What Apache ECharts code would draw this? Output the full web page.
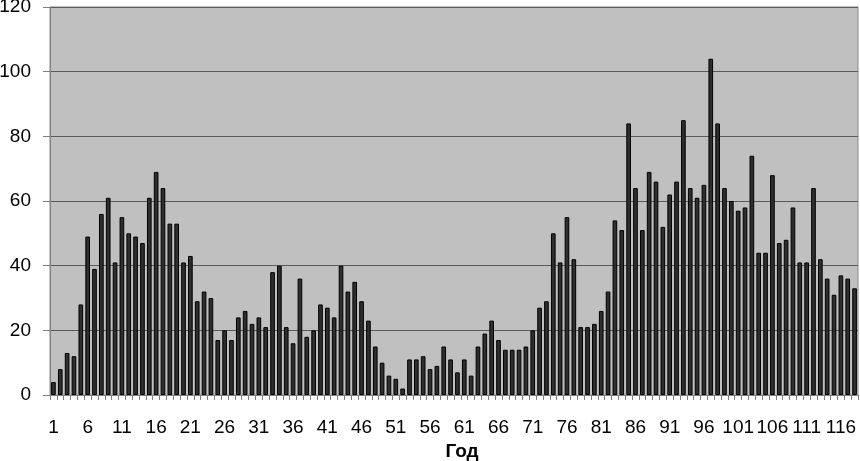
<!DOCTYPE html>
<html>
<head>
<meta charset="utf-8">
<script src="https://cdn.jsdelivr.net/npm/echarts@6/dist/echarts.min.js"></script>
<style>html,body{margin:0;padding:0;background:#fff;}#c{width:860px;height:461px;}</style>
</head>
<body>
<div id="c"></div>
<script>
var categories = [];
for (var i = 1; i <= 118; i++) categories.push(String(i));
var values = [
  4, 8, 13, 12, 28, 49, 39, 56, 61, 41,
  55, 50, 49, 47, 61, 69, 64, 53, 53, 41,
  43, 29, 32, 30, 17, 20, 17, 24, 26, 22,
  24, 21, 38, 40, 21, 16, 36, 18, 20, 28,
  27, 24, 40, 32, 35, 29, 23, 15, 10, 6,
  5, 2, 11, 11, 12, 8, 9, 15, 11, 7,
  11, 6, 15, 19, 23, 17, 14, 14, 14, 15,
  20, 27, 29, 50, 41, 55, 42, 21, 21, 22,
  26, 32, 54, 51, 84, 64, 51, 69, 66, 52,
  62, 66, 85, 64, 61, 65, 104, 84, 64, 60,
  57, 58, 74, 44, 44, 68, 47, 48, 58, 41,
  41, 64, 42, 36, 31, 37, 36, 33
];
var yMin = 0, yMax = 120, yStep = 20;
var xTitle = 'Год';

var chart = echarts.init(document.getElementById('c'), null, {renderer: 'canvas'});
chart.setOption({
  animation: false,
  backgroundColor: '#ffffff',
  grid: {
    left: 50, right: 2, top: 7, bottom: 66,
    outerBoundsMode: 'none',
    containLabel: false,
    show: true, backgroundColor: '#c0c0c0', borderColor: '#8a8a8a', borderWidth: 1
  },
  xAxis: {
    type: 'category',
    data: categories,
    boundaryGap: true,
    name: xTitle,
    nameLocation: 'middle',
    nameGap: 46,
    nameTextStyle: {fontFamily: 'Liberation Sans', fontSize: 19, fontWeight: 'bold', color: '#000', padding: [0, 0, 0, 16]},
    axisLine: {lineStyle: {color: '#808080', width: 1}},
    axisTick: {show: true, interval: 0, length: 5, lineStyle: {color: '#808080'}},
    axisLabel: {interval: 4, margin: 23, hideOverlap: false, fontFamily: 'Liberation Sans', fontSize: 19, color: '#000'},
    splitLine: {show: false}
  },
  yAxis: {
    type: 'value',
    min: yMin, max: yMax, interval: yStep,
    axisLine: {show: true, lineStyle: {color: '#808080', width: 1}},
    axisTick: {show: true, length: 7, lineStyle: {color: '#808080'}},
    axisLabel: {margin: 19, fontFamily: 'Liberation Sans', fontSize: 19, color: '#000'},
    splitLine: {show: true, lineStyle: {color: '#5a5a5a', width: 1}}
  },
  series: [{
    type: 'bar',
    data: values,
    barWidth: '68%',
    itemStyle: {color: '#2e2e2e', borderColor: '#000', borderWidth: 1}
  }]
});
</script>
</body>
</html>
